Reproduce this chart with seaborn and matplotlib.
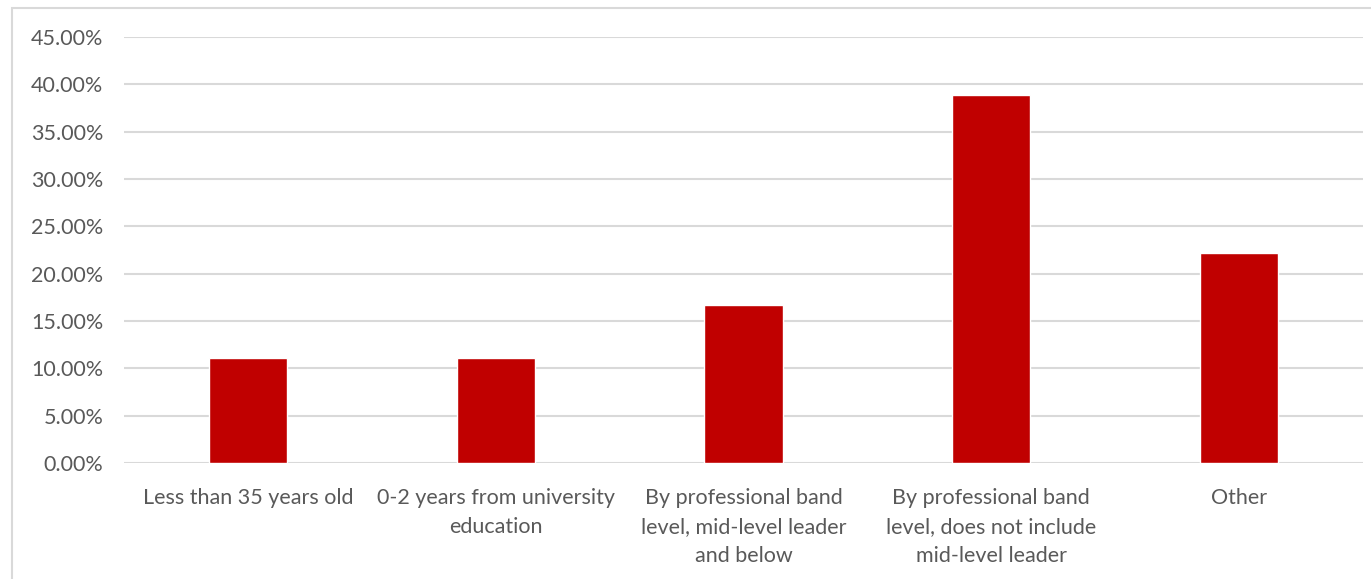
import matplotlib
matplotlib.use("Agg")
import pandas as pd
import seaborn as sns
from matplotlib import pyplot as plt
from matplotlib.patches import Rectangle
from matplotlib.ticker import PercentFormatter

categories = [
    "Less than 35 years old",
    "0-2 years from university\neducation",
    "By professional band\nlevel, mid-level leader\nand below",
    "By professional band\nlevel, does not include\nmid-level leader",
    "Other",
]
shares = [0.1111, 0.1111, 0.1667, 0.3889, 0.2222]
yticks = [0, 0.05, 0.10, 0.15, 0.20, 0.25, 0.30, 0.35, 0.40, 0.45]

df = pd.DataFrame({"category": categories, "share": shares})

sns.set_theme(style="white")
plt.rcParams["font.family"] = ["Lato", "DejaVu Sans"]

fig = plt.figure(figsize=(13.71, 5.79), dpi=100)
ax = fig.add_axes([124 / 1371, 1 - 463 / 579, 1239 / 1371, 426 / 579])

sns.barplot(df, x="category", y="share", color="#c00000", width=0.315,
            saturation=1, ax=ax, zorder=3)

ax.set_ylim(0, 0.45)
ax.set_xlim(-0.5, 4.5)
ax.set_yticks(yticks)
ax.yaxis.set_major_formatter(PercentFormatter(1.0, decimals=2))
ax.grid(axis="y", color="#d9d9d9", linewidth=1.5, zorder=0)
ax.set_xlabel("")
ax.set_ylabel("")
for s in ax.spines.values():
    s.set_visible(False)
ax.tick_params(axis="both", length=0, colors="#595959")
ax.tick_params(axis="y", pad=15, labelsize=15.5)
ax.tick_params(axis="x", pad=18, labelsize=15.5)
for lab in ax.get_xticklabels():
    lab.set_linespacing(1.55)

# chart frame
fig.patches.append(Rectangle((12 / 1371, -0.1), 1.2, 1 - 8 / 579 + 0.1,
                             transform=fig.transFigure, fill=False,
                             edgecolor="#d9d9d9", linewidth=1.5))

fig.savefig("out.png", dpi=100, facecolor="white")
